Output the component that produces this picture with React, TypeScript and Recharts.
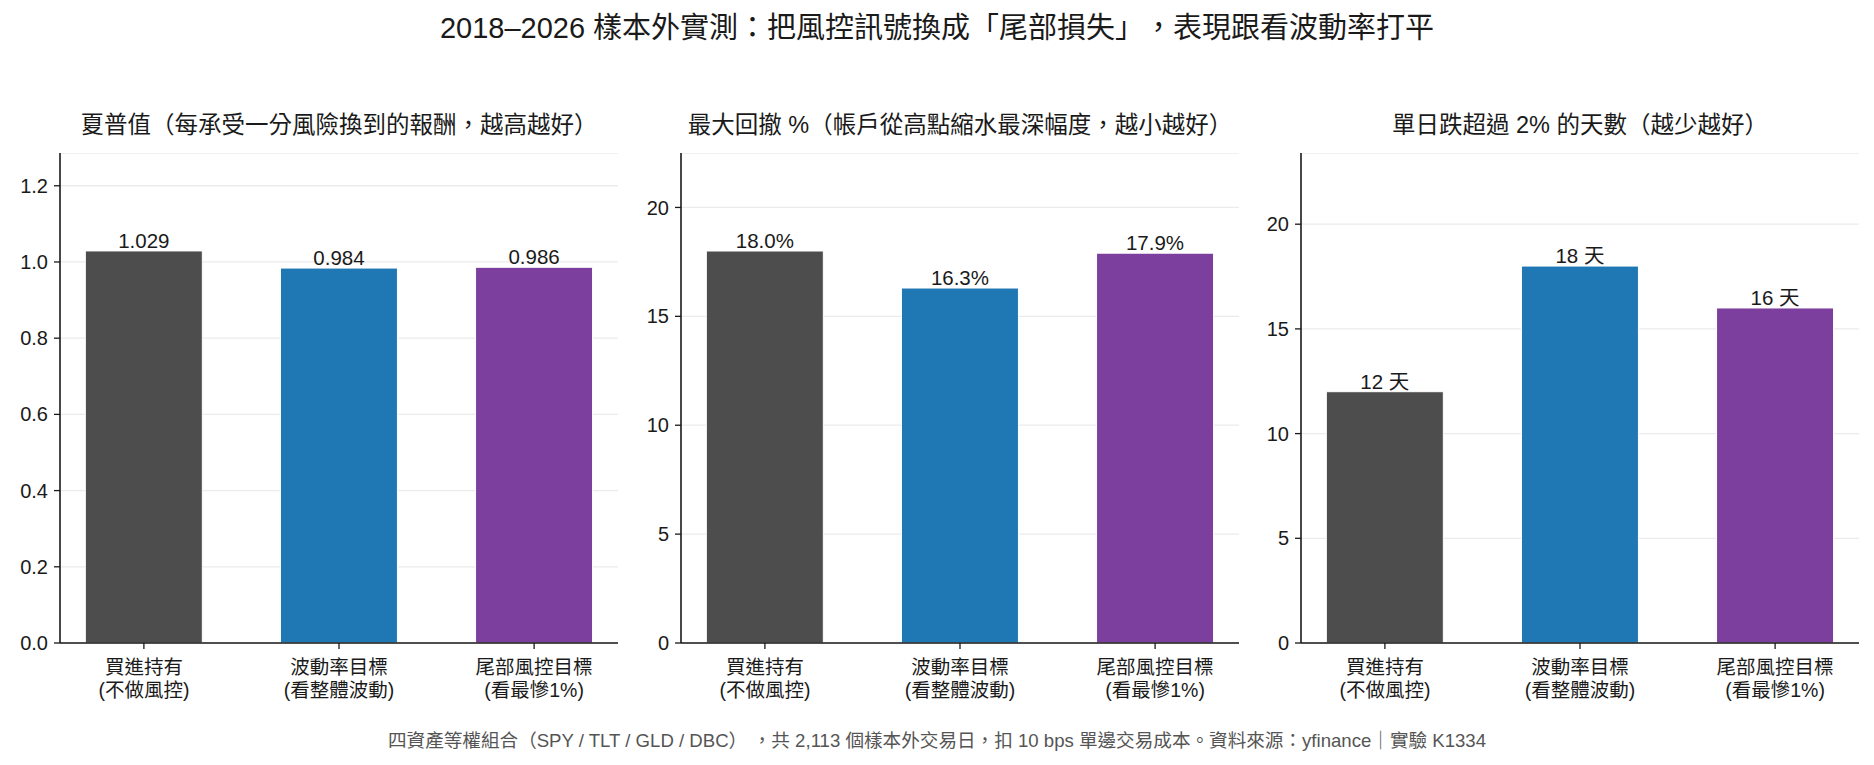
import { BarChart, Bar, XAxis, YAxis, CartesianGrid, Cell, LabelList } from 'recharts'

// categories and values
const categories = ['買進持有\n(不做風控)', '波動率目標\n(看整體波動)', '尾部風控目標\n(看最慘1%)']
const sharpeValues = [1.029, 0.984, 0.986]
const maxDrawdownValues = [18.0, 16.3, 17.9]
const bigDropDays = [12, 18, 16]

const sharpeTicks = [0, 0.2, 0.4, 0.6, 0.8, 1.0, 1.2]
const drawdownTicks = [0, 5, 10, 15, 20]
const dayTicks = [0, 5, 10, 15, 20]

const panelTitles = [
  '夏普值（每承受一分風險換到的報酬，越高越好）',
  '最大回撤 %（帳戶從高點縮水最深幅度，越小越好）',
  '單日跌超過 2% 的天數（越少越好）',
]

const barColors = ['#4d4d4d', '#1f77b4', '#7d3f9e']
const FONT = '"Liberation Sans", "Noto Sans CJK TC", sans-serif'
const INK = '#1a1a1a'

const PLOT_W = 558
const PLOT_H = 490
const PLOT_TOP = 153
const Y_W = 70
const X_H = 80

function XTick({ x, y, payload }: any) {
  const [a, b] = categories[payload.value].split('\n')
  return (
    <g transform={`translate(${x},${y})`}>
      <text textAnchor="middle" fontSize={19.5} fill={INK} fontFamily={FONT}>
        <tspan x={0} dy={23}>{a}</tspan>
        <tspan x={0} dy={22.5}>{b}</tspan>
      </text>
    </g>
  )
}

interface PanelProps {
  values: number[]
  domainMax: number
  ticks: number[]
  tickFmt: (v: number) => string
  labelFmt: (v: number) => string
  axisX: number
}

function Panel({ values, domainMax, ticks, tickFmt, labelFmt, axisX }: PanelProps) {
  const rows = values.map((v, i) => ({ idx: i, value: v }))
  return (
    <div style={{ position: 'absolute', left: axisX - Y_W, top: PLOT_TOP }}>
      <BarChart
        width={Y_W + PLOT_W + 10}
        height={PLOT_H + X_H}
        data={rows}
        margin={{ top: 0, right: 10, left: 0, bottom: 0 }}
      >
        <CartesianGrid vertical={false} stroke="#ebebeb" strokeWidth={1.3} />
        <XAxis
          type="number"
          dataKey="idx"
          domain={[-0.43, 2.43]}
          ticks={[0, 1, 2]}
          tick={<XTick />}
          interval={0}
          height={X_H}
          tickSize={6}
          axisLine={{ stroke: INK, strokeWidth: 1.6 }}
          tickLine={{ stroke: INK, strokeWidth: 1.3 }}
          allowDataOverflow
        />
        <YAxis
          type="number"
          domain={[0, domainMax]}
          ticks={ticks}
          tickFormatter={tickFmt}
          width={Y_W}
          tickSize={6}
          tickMargin={6}
          axisLine={{ stroke: INK, strokeWidth: 1.6 }}
          tickLine={{ stroke: INK, strokeWidth: 1.3 }}
          tick={{ fontSize: 20, fill: INK, fontFamily: FONT }}
          allowDataOverflow
        />
        <Bar dataKey="value" barSize={117} stroke="#ffffff" strokeWidth={1} isAnimationActive={false}>
          {rows.map((_, i) => (
            <Cell key={i} fill={barColors[i]} />
          ))}
          <LabelList
            dataKey="value"
            position="top"
            offset={3}
            formatter={(v: any) => labelFmt(Number(v))}
            style={{ fontSize: 20.5, fill: INK, fontFamily: FONT }}
          />
        </Bar>
      </BarChart>
    </div>
  )
}

const axisXs = [60, 681, 1301]

const gapL = { marginLeft: '0.8em' }
const gapTitle = { marginLeft: '0.5em' }

export default function App() {
  return (
    <div
      style={{
        position: 'absolute',
        left: 0,
        top: 0,
        width: 1874,
        height: 765,
        background: '#fff',
        fontFamily: FONT,
        color: INK,
      }}
    >
      <div style={{ position: 'absolute', left: 0, width: 1874, top: 28, transform: 'translateY(-50%)', textAlign: 'center', fontSize: 29, lineHeight: 1, whiteSpace: 'nowrap' }}>
        2018–2026 樣本外實測：把風控訊號換成「尾部損失」<span style={gapTitle}>，</span>表現跟看波動率打平
      </div>
      {panelTitles.map((t, i) => (
        <div
          key={i}
          style={{
            position: 'absolute',
            left: axisXs[i] - 100,
            width: PLOT_W + 200,
            top: 126,
            transform: 'translateY(-50%)',
            textAlign: 'center',
            fontSize: 23.5,
            lineHeight: 1,
            whiteSpace: 'nowrap',
          }}
        >
          {t}
        </div>
      ))}
      <Panel
        values={sharpeValues}
        domainMax={1.286}
        ticks={sharpeTicks}
        tickFmt={(v) => v.toFixed(1)}
        labelFmt={(v) => v.toFixed(3)}
        axisX={axisXs[0]}
      />
      <Panel
        values={maxDrawdownValues}
        domainMax={22.5}
        ticks={drawdownTicks}
        tickFmt={(v) => String(v)}
        labelFmt={(v) => `${v.toFixed(1)}%`}
        axisX={axisXs[1]}
      />
      <Panel
        values={bigDropDays}
        domainMax={23.4}
        ticks={dayTicks}
        tickFmt={(v) => String(v)}
        labelFmt={(v) => `${v} 天`}
        axisX={axisXs[2]}
      />
      <div style={{ position: 'absolute', left: 0, width: 1874, top: 741, transform: 'translateY(-50%)', textAlign: 'center', fontSize: 18.6, lineHeight: 1, color: '#555', whiteSpace: 'nowrap' }}>
        四資產等權組合（SPY / TLT / GLD / DBC）<span style={gapL}>，</span>共 2,113 個樣本外交易日，扣 10 bps 單邊交易成本。資料來源：yfinance｜實驗 K1334
      </div>
    </div>
  )
}
